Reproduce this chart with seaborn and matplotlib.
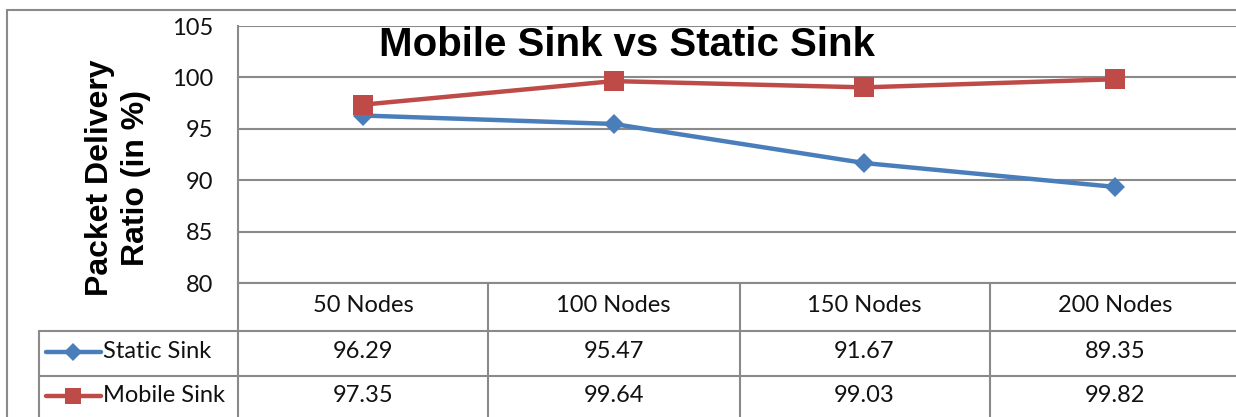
import matplotlib
matplotlib.use("Agg")
import matplotlib.pyplot as plt
from matplotlib.lines import Line2D
import seaborn as sns
import pandas as pd

categories = ["50 Nodes", "100 Nodes", "150 Nodes", "200 Nodes"]
static_sink = [96.29, 95.47, 91.67, 89.35]
mobile_sink = [97.35, 99.64, 99.03, 99.82]
series_names = ["Static Sink", "Mobile Sink"]
y_ticks = [80, 85, 90, 95, 100, 105]

sns.set_theme(style="white")
plt.rcParams["font.family"] = ["Lato", "DejaVu Sans"]

W, H = 1236, 417
fig = plt.figure(figsize=(W / 100, H / 100), dpi=100)

def fx(x):
    return x / W

def fy(y):
    return 1 - y / H

left, right, top, bottom = 238, 1240, 26, 283
ax = fig.add_axes([fx(left), fy(bottom), fx(right) - fx(left), fy(top) - fy(bottom)])

df = pd.DataFrame({
    "cat": list(range(len(categories))) * 2,
    "value": static_sink + mobile_sink,
    "series": [series_names[0]] * len(categories) + [series_names[1]] * len(categories),
})
colors = {"Static Sink": "#4a7ebb", "Mobile Sink": "#be4b48"}
markers = {"Static Sink": "D", "Mobile Sink": "s"}
msizes = {"Static Sink": 10.5, "Mobile Sink": 14}
sns.lineplot(data=df, x="cat", y="value", hue="series", style="series",
             palette=colors, markers=markers, dashes=False, markersize=12,
             linewidth=3.2, markeredgewidth=0, ax=ax, legend=False, zorder=3)
for ln, name in zip(ax.lines, series_names):
    ln.set_markersize(msizes[name])

ax.set_xlim(-0.5, len(categories) - 0.5)
ax.set_ylim(80, 105)
ax.set_yticks(y_ticks)
ax.set_yticklabels([str(t) for t in y_ticks], fontsize=17, color="#111111")
ax.set_xticks([])
ax.set_xlabel("")
ax.set_ylabel("")
ax.tick_params(axis="y", length=0, pad=18)
for yt in y_ticks:
    ax.axhline(yt, color="#8a8a8a", lw=1.5, zorder=1)
for s in ["top", "right", "bottom"]:
    ax.spines[s].set_visible(False)
ax.spines["left"].set_color("#8a8a8a")
ax.spines["left"].set_linewidth(1.5)

gray = "#8a8a8a"

def hline(y, x0, x1):
    fig.add_artist(Line2D([fx(x0), fx(x1)], [fy(y), fy(y)], color=gray, lw=1.5))

def vline(x, y0, y1):
    fig.add_artist(Line2D([fx(x), fx(x)], [fy(y0), fy(y1)], color=gray, lw=1.5))

# outer chart border
hline(10, 7, W)
vline(7, 10, H)

# data table grid
hline(283, 238, W)
hline(331, 39, W)
hline(376, 39, W)
vline(39, 331, H)
col_edges = [238, 488, 740, 990]
for x in col_edges:
    vline(x, 283, H)

col_w = 250.5
row_y = [306, 352, 396]
for i, c in enumerate(categories):
    cx = left + col_w * (i + 0.5)
    fig.text(fx(cx), fy(row_y[0]), c, ha="center", va="center", fontsize=17, color="#111111")
    fig.text(fx(cx), fy(row_y[1]), f"{static_sink[i]:.2f}", ha="center", va="center", fontsize=17, color="#111111")
    fig.text(fx(cx), fy(row_y[2]), f"{mobile_sink[i]:.2f}", ha="center", va="center", fontsize=17, color="#111111")

for j, name in enumerate(series_names):
    yy = row_y[j + 1]
    fig.add_artist(Line2D([fx(46), fx(101)], [fy(yy), fy(yy)], color=colors[name], lw=3.2))
    fig.add_artist(Line2D([fx(73)], [fy(yy)], color=colors[name], marker=markers[name],
                          markersize=msizes[name] * 0.85, markeredgewidth=0, lw=0))
    fig.text(fx(103), fy(yy), name, ha="left", va="center", fontsize=17, color="#111111")

fig.text(fx(627), fy(45), "Mobile Sink vs Static Sink", ha="center", va="center",
         fontsize=29, fontweight="bold", family=["Liberation Sans", "DejaVu Sans"], color="#000000")
fig.text(fx(118), fy(178), "Packet Delivery\nRatio (in %)", ha="center", va="center",
         rotation=90, fontsize=23, fontweight="bold", family=["Liberation Sans", "DejaVu Sans"],
         linespacing=1.25, color="#000000")

fig.savefig("out.png", dpi=100, facecolor="white")
